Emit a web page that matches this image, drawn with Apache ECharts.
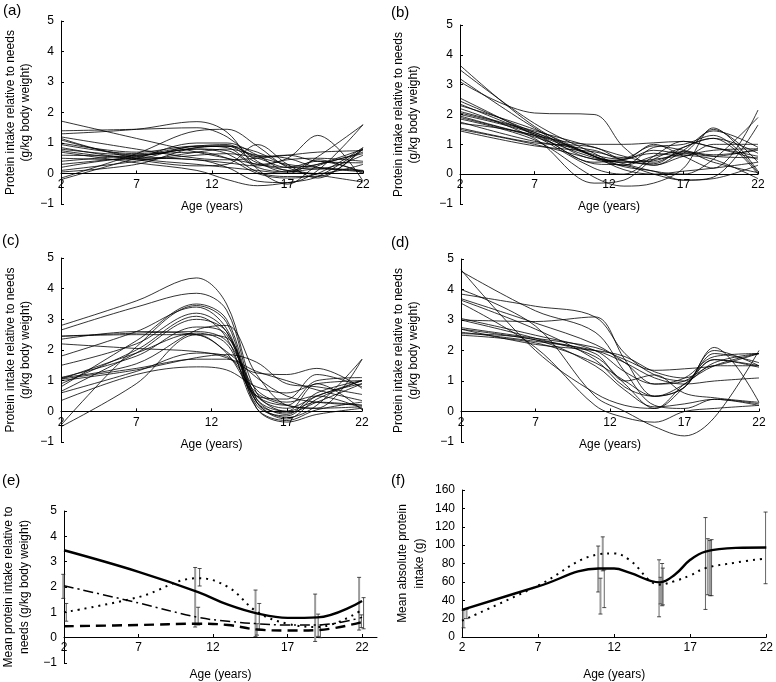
<!DOCTYPE html>
<html><head><meta charset="utf-8">
<script src="https://cdn.jsdelivr.net/npm/echarts@6/dist/echarts.min.js"></script>
<style>html,body{margin:0;padding:0;background:#fff}#c{width:776px;height:682px}</style>
</head><body><div id="c"></div>
<script>
// ---------- data ----------
const SPAG_AGES = [2, 7, 11, 13, 15, 17, 19, 22];
const panelA = [
 [1.72,1.15,0.7,0.5,0.3,0.1,-0.05,-0.28],
 [1.4,1.45,1.5,1.2,0.4,0.05,0.15,0.05],
 [1.3,1.45,1.7,1.35,0.15,-0.35,0.25,0.65],
 [1.15,0.6,0.85,0.9,0.55,0.3,0.2,0.1],
 [1.1,0.5,0.3,0.2,0.1,0.0,0.55,1.6],
 [1.0,0.7,0.9,0.85,0.3,0.5,1.25,-0.25],
 [0.85,0.45,0.25,0.3,0.95,0.3,-0.15,0.85],
 [0.8,0.6,0.8,0.65,0.05,-0.1,-0.1,0.8],
 [0.75,0.5,0.9,0.9,0.35,0.2,0.4,0.05],
 [0.6,0.55,0.45,0.35,0.25,0.45,0.5,0.4],
 [0.5,0.45,0.6,0.65,0.5,0.2,0.3,0.7],
 [0.4,0.6,0.7,0.5,0.0,-0.15,0.0,0.85],
 [0.3,0.55,0.8,0.75,0.2,0.05,0.45,0.0],
 [0.2,0.5,0.45,0.2,-0.25,-0.3,0.1,1.6],
 [0.1,0.4,0.7,0.8,0.6,0.5,0.2,0.1],
 [-0.2,0.5,1.0,1.0,0.6,0.1,0.3,0.8],
 [-0.15,0.65,1.4,1.45,0.9,0.2,0.0,0.3],
 [0.95,0.65,0.9,0.95,0.55,0.6,0.4,0.35],
 [0.7,0.35,0.1,-0.2,-0.4,-0.3,-0.1,0.8],
 [1.2,0.8,0.5,0.45,0.5,0.6,0.7,0.75],
 [0.05,0.3,0.85,0.9,0.7,0.25,0.15,0.6]
];
const panelB = [
 [3.65,1.6,0.6,0.4,0.5,0.7,1.5,0.4],
 [3.5,1.7,0.7,0.3,0.9,1.0,1.3,0.05],
 [3.2,1.55,0.5,0.45,0.3,0.8,1.45,0.9],
 [3.1,2.05,2.0,0.9,0.3,0.6,0.8,0.85],
 [2.55,1.3,0.2,0.0,0.6,1.1,0.9,0.6],
 [2.45,1.4,0.65,0.5,1.0,0.6,0.2,2.15],
 [2.35,1.35,0.6,0.35,0.1,0.0,0.5,1.9],
 [2.2,1.2,-0.3,-0.2,0.5,0.9,1.2,0.0],
 [2.1,1.45,0.9,0.6,0.4,0.75,0.65,0.8],
 [2.05,1.4,0.6,0.25,0.1,-0.2,-0.1,1.65],
 [1.95,1.3,1.0,1.0,1.05,1.1,0.9,0.5],
 [1.9,1.25,0.55,0.4,0.45,0.7,0.6,0.85],
 [1.85,1.15,-0.1,-0.4,-0.3,0.2,1.55,0.1],
 [1.75,1.1,0.8,0.5,0.8,0.65,0.5,-0.15],
 [1.7,1.3,0.35,0.3,0.0,-0.2,-0.15,0.3],
 [1.55,1.05,0.9,0.45,0.35,0.9,1.2,0.7],
 [1.5,1.0,0.5,0.3,0.6,0.75,0.4,0.05],
 [1.45,0.95,0.75,0.55,0.95,0.8,0.6,0.55],
 [2.3,1.5,0.6,0.15,0.0,0.1,0.2,0.4],
 [2.0,1.35,0.4,0.5,0.7,0.6,1.0,1.0]
];
const panelC = [
 [2.8,3.6,4.35,3.5,0.6,0.0,0.3,0.2],
 [2.65,3.4,3.85,3.3,0.4,-0.1,0.6,1.0],
 [2.45,2.55,2.6,2.3,0.7,0.3,0.5,0.1],
 [2.35,2.6,2.5,1.9,0.5,0.2,1.0,1.1],
 [2.2,2.05,1.95,1.75,1.25,1.2,1.4,0.75],
 [1.8,2.6,3.4,2.7,0.3,-0.2,0.2,1.7],
 [1.5,2.2,3.2,2.6,0.2,-0.15,0.5,0.9],
 [1.1,1.55,2.65,2.8,1.2,0.2,0.1,0.15],
 [1.05,1.4,1.7,1.7,1.3,1.0,0.7,0.35],
 [1.0,1.35,1.75,1.85,1.6,0.9,0.8,0.55],
 [0.9,2.0,3.1,2.4,0.1,-0.3,0.05,0.3],
 [0.8,2.3,3.5,3.0,0.3,-0.25,0.4,1.0],
 [0.65,1.9,3.0,2.6,0.4,0.0,0.9,0.05],
 [0.6,1.3,1.9,1.8,0.6,0.2,0.1,1.7],
 [0.35,1.2,1.45,1.35,0.8,0.6,0.9,1.0],
 [-0.45,2.1,3.45,2.9,0.1,-0.35,-0.1,0.1],
 [-0.5,0.9,2.5,2.4,0.5,0.1,0.5,1.0],
 [1.05,1.9,2.55,2.2,0.5,0.4,1.2,0.8],
 [2.45,2.5,2.5,1.95,1.1,0.5,0.3,0.2],
 [1.1,1.8,2.75,2.5,0.3,-0.05,0.3,0.9]
];
const panelD = [
 [4.65,2.0,0.6,0.2,0.1,0.8,1.7,1.5],
 [4.6,3.3,2.6,1.3,0.2,0.1,0.4,0.2],
 [4.0,2.8,0.5,0.0,-0.5,-0.8,-0.2,2.0],
 [3.85,3.45,3.1,1.9,1.2,1.0,1.9,1.6],
 [3.7,2.9,2.2,1.6,0.9,1.1,1.8,1.9],
 [3.65,2.7,1.7,0.8,0.5,0.9,1.6,1.9],
 [3.55,2.1,0.2,-0.2,-0.35,0.0,0.1,0.2],
 [3.05,2.5,2.0,1.3,0.9,1.0,1.7,1.45],
 [3.0,2.95,3.1,1.7,0.5,0.8,2.0,1.5],
 [2.75,2.4,2.1,1.7,1.35,1.4,1.5,1.9],
 [2.7,2.35,1.9,1.0,1.2,0.6,0.45,0.3],
 [2.6,2.3,2.0,1.6,1.1,0.9,1.0,1.1],
 [2.55,2.35,1.5,0.7,0.15,0.25,0.4,0.25],
 [2.5,2.25,1.6,1.0,0.5,0.8,2.1,0.3],
 [2.7,2.2,2.0,1.8,1.3,1.1,1.5,1.5],
 [3.0,2.4,1.8,0.9,0.1,0.9,1.5,1.9]
];
// panel (e): group means (g/kg)
const E_AGES = [2, 7, 11, 13, 15, 17, 19, 22];
const eSolid   = [3.45, 2.6, 1.8, 1.3, 0.95, 0.78, 0.8, 1.45];
const eDotted  = [1.0, 1.6, 2.35, 2.0, 1.0, 0.55, 0.42, 1.1];
const eDashDot = [2.05, 1.37, 0.8, 0.65, 0.55, 0.5, 0.5, 0.8];
const eDashed  = [0.45, 0.5, 0.55, 0.5, 0.32, 0.28, 0.3, 0.62];
// error bars [age, low, high]
const eBarsGrey  = [[1.95,1.55,2.5],[10.8,0.42,2.77],[14.85,0.04,1.88],[18.85,-0.15,1.72],[21.8,0.3,2.38]];
const eBarsBlack = [[2.15,0.65,1.35],[11.1,2.04,2.73],[11.0,0.5,1.2],[15.1,0.3,1.35],[14.95,0.1,0.55],[19.05,0.05,0.93],[19.2,0.0,0.5],[22.1,0.35,1.58],[21.95,0.4,0.9]];
// panel (f): absolute protein (g)
const F_AGES = [2, 7, 11, 12, 13, 15, 16, 17, 18, 20, 22];
const fSolid  = [29.6, 55, 74.5, 74.5, 70, 59.5, 68, 84, 93, 97, 97.4];
const fDotted = [17.7, 56, 90, 91, 84, 57, 61, 67, 75, 81, 85.6];
const fBarsGrey  = [[2.1,10,29],[2.3,20,30],[10.95,49,99],[11.1,25,64],[11.25,72,109],[15.05,36,65],[15.2,35,75],[18.15,46,107],[18.3,45,105]];
const fBarsBlack = [[11.35,32,73],[14.95,22,84],[15.15,34,80],[18.0,30,130],[18.4,45,106],[21.95,58,136]];
const AGE_START = 2;

// ---------- chart ----------
const FONT = '"Liberation Sans", Arial, Helvetica, sans-serif';
const chart = echarts.init(document.getElementById('c'), null, {renderer:'canvas'});
const grids = [
 {left:61, top:21, width:302, height:183},
 {left:460, top:25, width:298, height:179},
 {left:61, top:258, width:301, height:184},
 {left:461, top:259, width:298, height:183},
 {left:64, top:511, width:313, height:156},
 {left:462, top:490, width:306, height:151}
];
const yNames = [
 'Protein intake relative to needs\n(g/kg body weight)',
 'Protein intake relative to needs\n(g/kg body weight)',
 'Protein intake relative to needs\n(g/kg body weight)',
 'Protein intake relative to needs\n(g/kg body weight)',
 'Mean protein intake relative to\nneeds (g/kg body weight)',
 'Mean absolute protein\nintake (g)'
];
const yGaps = [28, 39, 28, 40, 31, 34];
const yLH = [15, 15, 15, 15, 16, 17];
const xGaps = [27, 27, 27, 27, 32, 32];
const yRange = [[-1,5,1],[-1,5,1],[-1,5,1],[-1,5,1],[-1,5,1],[0,160,20]];

const xAxes = grids.map((g, i) => {
  const r = yRange[i];
  // place the x axis at y = 0 of its value axis (shift up from the grid bottom)
  const zeroOffset = -g.height * (0 - r[0]) / (r[1] - r[0]);
  return {
    type:'value', gridIndex:i, min:0, max: i===4 ? 21 : 20, interval:5,
    offset: zeroOffset,
    axisLine:{show:true, onZero:false, lineStyle:{color:'#000', width:1}},
    axisTick:{show:true, inside:true, length:3, lineStyle:{color:'#000'}},
    axisLabel:{color:'#000', fontSize:12, fontFamily:FONT, margin:5, showMaxLabel: i!==4,
      formatter: v => (v % 5 === 0 ? String(v + AGE_START) : '')},
    splitLine:{show:false},
    name:'Age (years)', nameLocation:'middle', nameGap:xGaps[i],
    nameTextStyle:{color:'#000', fontSize:12, fontFamily:FONT}
  };
});
const yAxes = grids.map((g, i) => {
  const r = yRange[i];
  return {
    type:'value', gridIndex:i, min:r[0], max:r[1], interval:r[2],
    axisLine:{show:true, onZero:false, lineStyle:{color:'#000', width:1}},
    axisTick:{show:true, inside:true, length:3, lineStyle:{color:'#000'}},
    axisLabel:{color:'#000', fontSize:12, fontFamily:FONT, margin:7,
      formatter: v => (v < 0 ? '\u2212' + Math.abs(v) : String(v))},
    splitLine:{show:false},
    name:yNames[i], nameLocation:'middle', nameGap:yGaps[i],
    nameTextStyle:{color:'#000', fontSize:12, fontFamily:FONT, lineHeight:yLH[i], align:'center'}
  };
});

const series = [];
[panelA, panelB, panelC, panelD].forEach((curves, p) => {
  curves.forEach(c => {
    series.push({
      type:'line', xAxisIndex:p, yAxisIndex:p, smooth:0.35, symbol:'none', silent:true,
      lineStyle:{color:'#000', width:0.8},
      data: SPAG_AGES.map((a, k) => [a - AGE_START, c[k]])
    });
  });
});
function barSeries(p, bars, color, width, cap) {
  return {
    type:'custom', xAxisIndex:p, yAxisIndex:p, silent:true, z:1,
    data: bars.map(b => [b[0] - AGE_START, b[1], b[2]]),
    encode:{x:0, y:[1,2]},
    renderItem: (params, api) => {
      const lo = api.coord([api.value(0), api.value(1)]);
      const hi = api.coord([api.value(0), api.value(2)]);
      const st = {stroke:color, lineWidth:width};
      const cst = {stroke:'#222', lineWidth:0.8};
      return {type:'group', children:[
        {type:'line', shape:{x1:lo[0], y1:lo[1], x2:hi[0], y2:hi[1]}, style:st},
        {type:'line', shape:{x1:lo[0]-cap, y1:lo[1], x2:lo[0]+cap, y2:lo[1]}, style:cst},
        {type:'line', shape:{x1:hi[0]-cap, y1:hi[1], x2:hi[0]+cap, y2:hi[1]}, style:cst}
      ]};
    }
  };
}
series.push(barSeries(4, eBarsGrey, '#9a9a9a', 2, 2));
series.push(barSeries(4, eBarsBlack, '#444', 0.9, 2));
series.push(barSeries(5, fBarsGrey, '#9a9a9a', 2, 2));
series.push(barSeries(5, fBarsBlack, '#555', 0.9, 2));

function meanLine(p, ages, vals, ls) {
  return {type:'line', xAxisIndex:p, yAxisIndex:p, smooth:0.4, symbol:'none', silent:true, z:3,
    lineStyle:Object.assign({color:'#000'}, ls),
    data: ages.map((a, k) => [a - AGE_START, vals[k]])};
}
series.push(meanLine(4, E_AGES, eSolid, {width:2.4}));
series.push(meanLine(4, E_AGES, eDotted, {width:2, type:[2,5]}));
series.push(meanLine(4, E_AGES, eDashDot, {width:1.5, type:[10,4,2,4]}));
series.push(meanLine(4, E_AGES, eDashed, {width:2.4, type:[10,6]}));
series.push(meanLine(5, F_AGES, fSolid, {width:2.4}));
series.push(meanLine(5, F_AGES, fDotted, {width:2, type:[2,5]}));

const labels = [['(a)',3,3],['(b)',391,5],['(c)',2,233],['(d)',391,235],['(e)',2,473],['(f)',391,473]];
const graphic = labels.map(l => ({type:'text', left:l[1], top:l[2],
  style:{text:l[0], fill:'#000', font:'15px ' + FONT}}));

chart.setOption({
  animation:false, backgroundColor:'#fff',
  grid:grids, xAxis:xAxes, yAxis:yAxes, series:series, graphic:graphic
});
</script></body></html>
